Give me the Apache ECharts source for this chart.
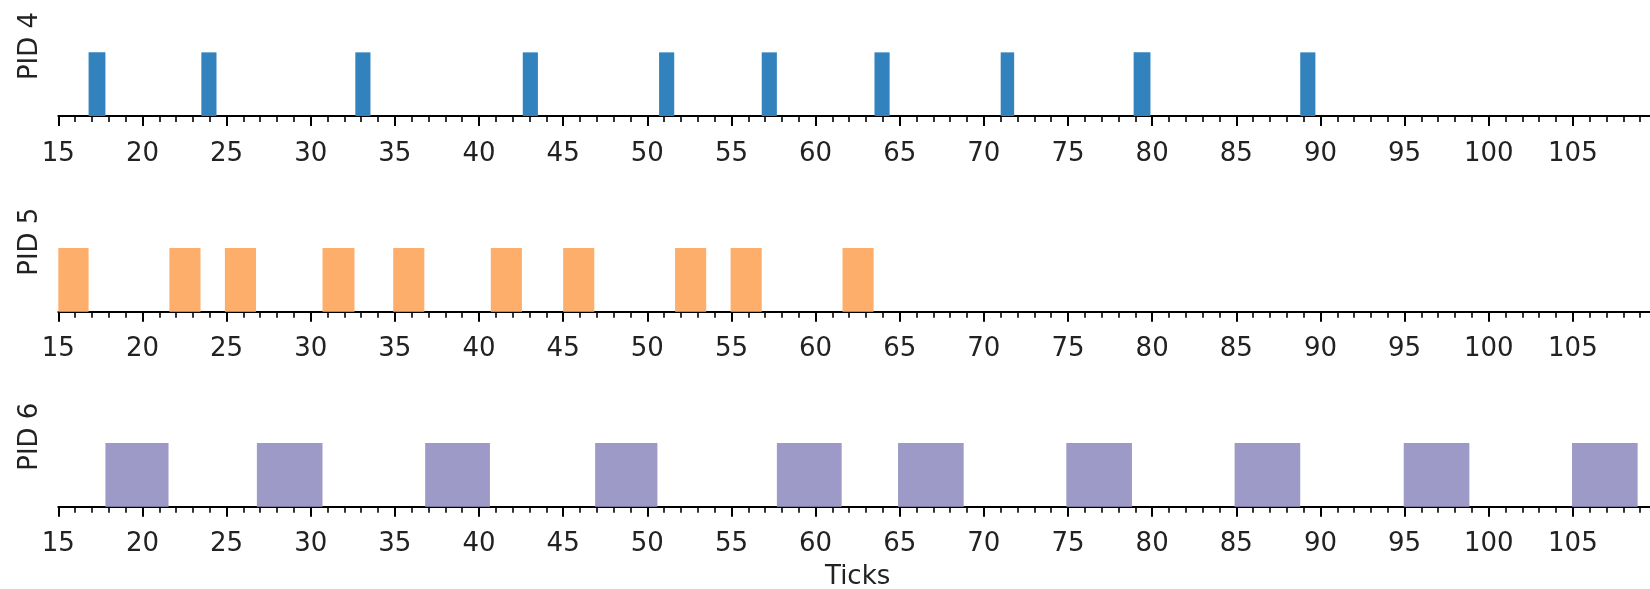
<!DOCTYPE html>
<html>
<head>
<meta charset="utf-8">
<script src="https://cdn.jsdelivr.net/npm/echarts@6/dist/echarts.min.js"></script>
<style>html,body{margin:0;padding:0;background:#fff}#c{width:1650px;height:589px}</style>
</head>
<body>
<div id="c"></div>
<script>
// Intervals [start, end] in ticks
const pid4 = [[16.8,17.8],[23.5,24.4],[32.65,33.55],[42.6,43.5],[50.7,51.6],[56.8,57.7],[63.5,64.4],[71.0,71.8],[78.9,79.9],[88.8,89.7]];
const pid5 = [[15.0,16.8],[21.6,23.45],[24.9,26.75],[30.7,32.6],[34.9,36.75],[40.7,42.55],[45.0,46.85],[51.65,53.5],[54.95,56.8],[61.6,63.45]];
const pid6 = [[17.8,21.55],[26.8,30.7],[36.8,40.65],[46.9,50.6],[57.7,61.55],[64.9,68.8],[74.9,78.8],[84.9,88.8],[94.95,98.85],[104.95,108.85]];
const panelNames = ['PID 4','PID 5','PID 6'];
const panelColors = ['#3182bd','#fdae6b','#9e9ac8'];
const xMin = 15, xMax = 110, xInterval = 5;
const panelData = [pid4, pid5, pid6];

const axisBottoms = [116, 311.7, 506.7];
const gridHeight = 140;
const FONT = 'DejaVu Sans';

const grids = [], xAxes = [], yAxes = [], series = [];
panelData.forEach((d, i) => {
  grids.push({left: 58.3, right: -7, top: axisBottoms[i] - gridHeight, height: gridHeight, outerBoundsMode: 'none', containLabel: false});
  xAxes.push({
    type: 'value', gridIndex: i, min: xMin, max: xMax, interval: xInterval,
    name: i === 2 ? 'Ticks' : '', nameLocation: 'middle', nameGap: 58,
    nameTextStyle: {fontFamily: FONT, fontSize: 26, color: '#222'},
    axisLine: {show: true, onZero: false, lineStyle: {color: '#000', width: 2}},
    axisTick: {show: true, length: 10, lineStyle: {color: '#000', width: 2}},
    minorTick: {show: true, splitNumber: 5, length: 6, lineStyle: {color: '#000', width: 1.6}},
    splitLine: {show: false}, minorSplitLine: {show: false},
    axisLabel: {fontFamily: FONT, fontSize: 26, color: '#222', margin: 25, showMaxLabel: false}
  });
  yAxes.push({
    type: 'value', gridIndex: i, min: 0, max: 2.2,
    name: panelNames[i], nameLocation: 'middle', nameRotate: 90, nameGap: 15,
    nameTextStyle: {fontFamily: FONT, fontSize: 26, color: '#222'},
    axisLine: {show: false}, axisTick: {show: false}, axisLabel: {show: false}, splitLine: {show: false}
  });
  const color = panelColors[i];
  series.push({
    type: 'custom', xAxisIndex: i, yAxisIndex: i, data: d,
    encode: {x: [0, 1]},
    renderItem: (params, api) => {
      const s = api.coord([api.value(0), 0]);
      const e = api.coord([api.value(1), 1]);
      return {type: 'rect', shape: {x: s[0], y: e[1], width: e[0] - s[0], height: s[1] - e[1]},
        style: {fill: color}};
    }
  });
});

const chart = echarts.init(document.getElementById('c'), null, {renderer: 'canvas'});
chart.setOption({animation: false, backgroundColor: '#fff', grid: grids, xAxis: xAxes, yAxis: yAxes, series: series});
</script>
</body>
</html>
